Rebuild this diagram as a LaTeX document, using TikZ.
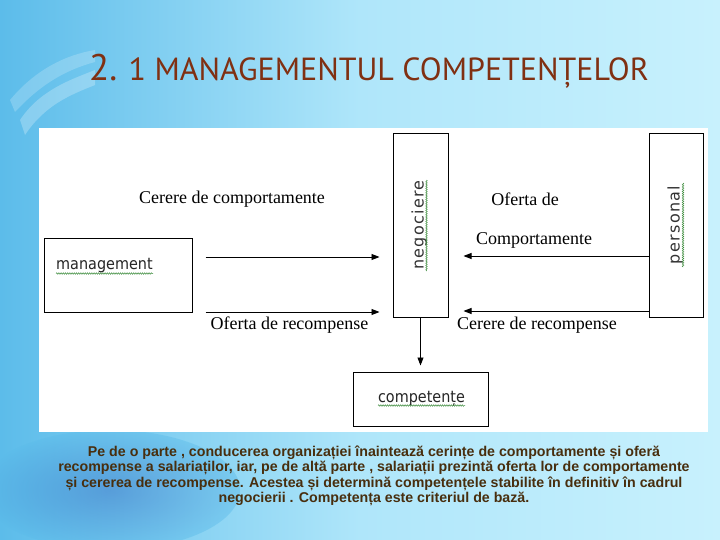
\documentclass[tikz,border=0pt]{standalone}
\usepackage{fontspec}
\setmainfont{Liberation Serif}
\newfontfamily\titlefont{PT Sans}
\newfontfamily\boxfont[FakeStretch=0.9]{DejaVu Sans}
\newfontfamily\rotfont[LetterSpace=8]{DejaVu Sans}
\newfontfamily\bodyfont{Liberation Sans}
\usetikzlibrary{arrows.meta,decorations.pathmorphing,calc}
\definecolor{bgL}{RGB}{92,188,234}
\definecolor{bgM}{RGB}{175,230,250}
\definecolor{bgR}{RGB}{200,241,253}
\definecolor{titlec}{RGB}{128,48,18}
\definecolor{bodyc}{RGB}{72,46,14}
\definecolor{wavyc}{RGB}{60,140,60}
\begin{document}
\begin{tikzpicture}[x=1pt,y=-1pt,
  box/.style={draw=black,line width=1pt,fill=white,inner sep=0pt},
  boxtext/.style={font=\boxfont\fontsize{16}{18}\selectfont,inner sep=0pt,text=black!85},
  rottext/.style={font=\rotfont\fontsize{16}{18}\selectfont,inner sep=0pt,text=black!80,rotate=90},
  lbl/.style={font=\fontsize{18}{20}\selectfont,inner sep=0pt},
  arr/.style={line width=0.9pt,-{Triangle[length=8pt,width=6pt]}},
  wavy/.style={draw=wavyc,line width=0.5pt,decorate,decoration={snake,segment length=2.2pt,amplitude=0.8pt}}]
\useasboundingbox (0,0) rectangle (720,540);
% background
\shade[left color=bgL,right color=bgR,middle color=bgM] (0,0) rectangle (720,540);
\fill[white,opacity=0.25] (20,120) .. controls (40,90) and (70,80) .. (95,70) -- (95,85) .. controls (70,95) and (45,105) .. (25,135) -- cycle;
\fill[white,opacity=0.2] (10,100) .. controls (35,70) and (65,55) .. (95,50) -- (95,62) .. controls (65,70) and (40,85) .. (15,112) -- cycle;
\shade[inner color=bgL!70!blue!80!black,outer color=bgL,opacity=0.45] (110,490) ellipse (130 and 60);
% panel
\fill[white] (39,128) rectangle (708,432);
% title
\node[font=\titlefont\fontsize{32}{34}\selectfont,text=titlec,inner sep=0pt,anchor=base] (title) at (369,81)
  {{\fontsize{37}{37}\selectfont 2.} 1 MANAGEMENTUL COMPETENȚELOR};
% boxes
\node[box,minimum width=148pt,minimum height=74pt] (mgmt) at (118,275) {};
\node[box,minimum width=55pt,minimum height=183pt] (neg) at (420.5,225.5) {};
\node[box,minimum width=54pt,minimum height=183pt] (per) at (676,225.5) {};
\node[box,minimum width=135pt,minimum height=54pt] (comp) at (420.5,399) {};
% box texts
\node[boxtext,anchor=base west] (mgmtlbl) at (56,269) {management};
\draw[wavy] (56,273.5) -- (153,273.5);
\node[rottext,anchor=base] (neglbl) at (423.5,225) {negociere};
\draw[wavy] (426.5,180) -- (426.5,271);
\node[rottext,anchor=base] (perlbl) at (679.5,225) {personal};
\draw[wavy] (683,183) -- (683,267);
\node[boxtext,anchor=base] (complbl) at (421.5,402) {competențe};
\draw[wavy] (378,405.5) -- (465,405.5);
% arrows
\draw[arr,shorten <=13pt,shorten >=13pt] (mgmt.east |- 0,257) -- (neg.west |- 0,257);
\draw[arr,shorten <=13pt,shorten >=13pt] (mgmt.east |- 0,312) -- (neg.west |- 0,312);
\draw[arr,shorten >=15pt] (per.west |- 0,256) -- (neg.east |- 0,256);
\draw[arr,shorten >=15pt] (per.west |- 0,311) -- (neg.east |- 0,311);
\draw[arr,shorten >=6pt] (neg.south) -- (comp.north);
% labels
\node[lbl] (l1) at (232,199) {Cerere de comportamente};
\node[lbl] (l2) at (289.5,325) {Oferta de recompense};
\node[lbl] (l3) at (525,199) {Oferta de};
\node[lbl] (l4) at (534,240) {Comportamente};
\node[lbl] (l5) at (537,325) {Cerere de recompense};
% body text
\node[font=\bodyfont\bfseries\fontsize{14.2}{15.5}\selectfont,text=bodyc,align=center,inner sep=0pt] (body) at (374,476)
 {Pe de o parte , conducerea organizației înaintează cerințe de comportamente și oferă\\
  recompense  a salariaților, iar, pe de altă parte , salariații prezintă oferta lor  de comportamente\\
  și cererea de recompense. Acestea și determină competențele  stabilite în definitiv  în cadrul\\
  negocierii . Competența  este  criteriul  de bază.};
\end{tikzpicture}
\end{document}
